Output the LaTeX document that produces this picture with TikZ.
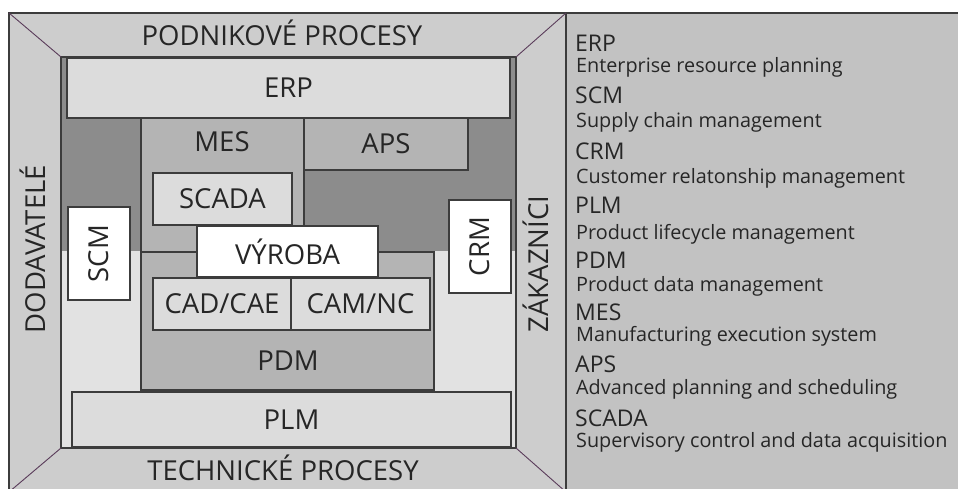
\documentclass[tikz,border=0pt]{standalone}
\usepackage{fontspec}
\setmainfont{Open Sans}
\definecolor{edge}{RGB}{60,60,60}
\definecolor{diag}{RGB}{90,60,90}
\definecolor{ink}{RGB}{38,38,38}
\definecolor{sidegray}{RGB}{205,205,205}
\definecolor{legendgray}{RGB}{194,194,194}
\definecolor{wallgray}{RGB}{140,140,140}
\definecolor{floorgray}{RGB}{226,226,226}
\definecolor{palegray}{RGB}{220,220,220}
\definecolor{midgray}{RGB}{180,180,180}
\begin{document}
\begin{tikzpicture}[x=1pt,y=-1pt,
  line/.style={draw=edge, line width=1.1pt},
  box/.style={line, rectangle, inner sep=0pt, outer sep=0pt, anchor=north west},
  lbl/.style={font=\fontsize{27.5}{31}\selectfont, text=ink, inner sep=0pt},
  ttl/.style={font=\fontsize{23}{26}\selectfont, text=ink, inner sep=0pt, anchor=base west},
  dsc/.style={font=\fontsize{19.8}{23}\selectfont, text=ink, inner sep=0pt, anchor=base west}]
\useasboundingbox (0,0) rectangle (958,488);
\fill[white] (0,0) rectangle (958,488);

% frame corners
\coordinate (otl) at (9,13);
\coordinate (otr) at (566,13);
\coordinate (obl) at (9,492);
\coordinate (obr) at (566,492);
\coordinate (itl) at (61,57);
\coordinate (itr) at (516,57);
\coordinate (ibl) at (61,448);
\coordinate (ibr) at (516,448);
\coordinate (lend) at (958,13);

\begin{scope}
\clip (0,0) rectangle (958,488);
% legend panel and perspective frame
\fill[legendgray] (otr) rectangle (960,492);
\fill[sidegray] (otl) rectangle (obr);
% back wall: upper (business) and lower (technical) halves
\fill[floorgray] (itl) rectangle (ibr);
\fill[wallgray] (itl) rectangle (516,251);
\draw[line] (itl) rectangle (ibr);
\draw[line] (obl) -- (otl) -- (lend);
\draw[line] (otr) -- (obr);
\draw[diag, line width=0.9pt] (otl) -- (itl);
\draw[diag, line width=0.9pt] (otr) -- (itr);
\draw[diag, line width=0.9pt] (ibl) -- (obl);
\draw[diag, line width=0.9pt] (ibr) -- (obr);
\end{scope}

% frame labels
\node[lbl] (podnik) at (282,33) {PODNIKOVÉ PROCESY};
\node[lbl] (tech) at (283,468) {TECHNICKÉ PROCESY};
\node[lbl, rotate=90] (dod) at (33,249) {DODAVATELÉ};
\node[lbl, rotate=90] (zak) at (536,264) {ZÁKAZNÍCI};

% systems
\node[box, fill=palegray, minimum width=443pt, minimum height=60pt] (erp) at (67,58) {};
\node[lbl] (erpl) at (erp.center) {ERP};
\node[box, fill=midgray, minimum width=163pt, minimum height=134pt] (mes) at (141,118) {};
\node[lbl] (mesl) at (222,142) {MES};
\node[box, fill=midgray, minimum width=164pt, minimum height=52pt] (aps) at (304,118) {};
\node[lbl] (apsl) at (aps.center) {APS};
\node[box, fill=midgray, minimum width=293pt, minimum height=138pt] (pdm) at (141,252) {};
\node[lbl] (pdml) at (288,361) {PDM};
\node[box, fill=palegray, minimum width=139pt, minimum height=52pt] (scada) at (153,173) {};
\node[lbl] (scadal) at (scada.center) {SCADA};
\node[box, fill=white, minimum width=181pt, minimum height=51pt] (vyroba) at (197,226) {};
\node[lbl] (vyrobal) at (vyroba.center) {VÝROBA};
\node[box, fill=palegray, minimum width=138pt, minimum height=52pt] (cad) at (153,278) {};
\node[lbl] (cadl) at (cad.center) {CAD/CAE};
\node[box, fill=palegray, minimum width=139pt, minimum height=52pt] (cam) at (291,278) {};
\node[lbl] (caml) at (cam.center) {CAM/NC};
\node[box, fill=palegray, minimum width=439pt, minimum height=55pt] (plm) at (72,392) {};
\node[lbl] (plml) at (plm.center) {PLM};
\node[box, fill=white, minimum width=62pt, minimum height=93pt] (scm) at (68,207) {};
\node[lbl, rotate=90] (scml) at (scm.center) {SCM};
\node[box, fill=white, minimum width=62pt, minimum height=93pt] (crm) at (449,200) {};
\node[lbl, rotate=90] (crml) at (crm.center) {CRM};

% legend
\node[ttl] (t1) at (575,51) {ERP};
\node[dsc] (d1) at (576,72) {Enterprise resource planning};
\node[ttl] (t2) at (575,103) {SCM};
\node[dsc] (d2) at (576,127) {Supply chain management};
\node[ttl] (t3) at (575,159) {CRM};
\node[dsc] (d3) at (576,183) {Customer relatonship management};
\node[ttl] (t4) at (575,213) {PLM};
\node[dsc] (d4) at (576,239) {Product lifecycle management};
\node[ttl] (t5) at (575,268) {PDM};
\node[dsc] (d5) at (576,291) {Product data management};
\node[ttl] (t6) at (575,320) {MES};
\node[dsc] (d6) at (576,341) {Manufacturing execution system};
\node[ttl] (t7) at (575,372) {APS};
\node[dsc] (d7) at (576,394) {Advanced planning and scheduling};
\node[ttl] (t8) at (575,426) {SCADA};
\node[dsc] (d8) at (576,447) {Supervisory control and data acquisition};
\end{tikzpicture}
\end{document}
